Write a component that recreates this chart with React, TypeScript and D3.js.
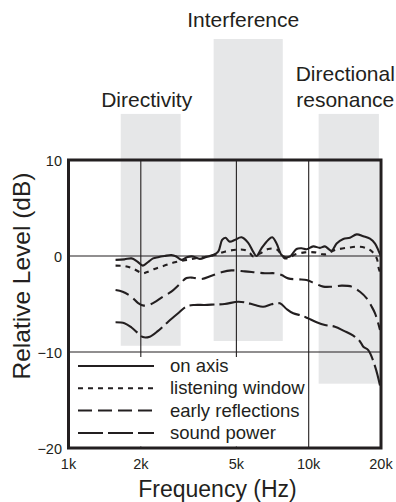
import { useEffect, useRef } from 'react';
import * as d3 from 'd3';

// frequencies in kHz, levels in dB
const onAxis: [number, number][] = [
  [1.57, -0.4], [1.71, -0.35], [1.83, -0.25], [1.93, -0.55], [2.04, -1.0], [2.14, -0.65],
  [2.25, -0.25], [2.36, -0.12], [2.51, 0.0], [2.68, 0.1], [2.81, -0.05], [2.95, -0.4],
  [3.13, -0.1], [3.3, -0.05], [3.52, -0.3], [3.75, -0.1], [4.0, 0.1], [4.2, 0.45],
  [4.36, 1.67], [4.5, 1.9], [4.69, 1.5], [4.92, 1.67], [5.25, 1.95], [5.59, 1.4],
  [5.87, 0.45], [6.06, 0.0], [6.36, 0.8], [6.78, 1.67], [7.05, 1.95], [7.35, 1.3],
  [7.71, 0.1], [7.96, -0.1], [8.35, -0.05], [8.9, 0.73], [9.34, 0.8], [9.8, 0.7],
  [10.44, 1.0], [11.14, 0.85], [11.68, 1.0], [12.46, 0.55], [13.07, 1.3], [13.93, 1.77],
  [14.85, 1.9], [15.84, 2.25], [16.88, 2.05], [17.99, 1.8], [18.89, 1.3], [19.62, 0.45],
  [20, 0.0],
];

const listeningWindow: [number, number][] = [
  [1.57, -1.0], [1.71, -1.05], [1.85, -1.3], [2.04, -1.8], [2.11, -1.7], [2.28, -1.35],
  [2.51, -1.0], [2.77, -0.65], [3.05, -0.45], [3.35, -0.25], [3.69, -0.1], [4.06, 0.1],
  [4.47, 0.45], [5.0, 0.65], [5.42, 0.62], [5.69, 0.3], [5.87, -0.05], [6.26, 0.25],
  [6.78, 0.73], [7.35, 0.7], [7.71, 0.1], [7.96, -0.25], [8.35, -0.15], [8.76, 0.15],
  [9.64, 0.38], [10.61, 0.38], [11.68, 0.17], [12.86, 0.62], [14.61, 0.87], [16.35, 0.97],
  [17.44, 0.8], [18.3, 0.5], [19.2, -0.25], [19.62, -1.4], [20, -1.85],
];

const earlyReflections: [number, number][] = [
  [1.57, -3.55], [1.68, -3.72], [1.83, -4.25], [1.95, -4.9], [2.06, -5.17], [2.21, -5.0],
  [2.47, -4.25], [2.68, -3.72], [2.9, -2.95], [3.1, -2.3], [3.3, -2.26], [3.58, -2.4],
  [3.94, -2.05], [4.33, -1.7], [4.77, -1.5], [5.42, -1.6], [5.97, -1.7], [6.57, -1.8],
  [7.23, -1.8], [7.71, -1.98], [8.21, -2.33], [9.04, -2.43], [9.8, -2.5], [10.61, -2.85],
  [11.5, -3.19], [12.46, -3.2], [13.72, -3.09], [15.1, -3.19], [16.35, -3.72], [17.44, -4.41],
  [18.3, -5.28], [18.89, -5.97], [19.38, -6.84], [19.81, -7.7],
];

const soundPower: [number, number][] = [
  [1.57, -6.9], [1.71, -7.0], [1.83, -7.45], [1.95, -8.05], [2.04, -8.45], [2.18, -8.4],
  [2.36, -7.8], [2.6, -6.85], [2.86, -5.97], [3.1, -5.25], [3.35, -5.1], [3.69, -5.1],
  [4.06, -5.05], [4.47, -5.0], [5.08, -4.76], [5.42, -4.83], [5.97, -5.1], [6.46, -5.28],
  [7.0, -5.03], [7.59, -4.93], [8.09, -5.52], [8.62, -5.97], [9.34, -6.2], [9.95, -6.5],
  [10.79, -6.9], [11.68, -7.19], [12.86, -7.36], [14.02, -7.8], [15.33, -8.3], [16.35, -8.9],
  [16.88, -9.45], [17.7, -9.8], [18.89, -11.5], [19.81, -13.5],
];

const seriesNames = ['on axis', 'listening window', 'early reflections', 'sound power'];
const seriesData = [onAxis, listeningWindow, earlyReflections, soundPower];

// shaded regions: [low kHz, high kHz, top dB, bottom dB]
const bandNames = [['Directivity'], ['Interference'], ['Directional', 'resonance']];
const bandRanges: [number, number, number, number][] = [
  [1.65, 2.93, 14.8, -9.35],
  [4.02, 7.8, 22.6, -8.85],
  [11.0, 19.6, 14.8, -13.3],
];

const freqTicks = [1, 2, 5, 10, 20];
const freqLabels = ['1k', '2k', '5k', '10k', '20k'];
const freqGrid = [2, 5, 10];
const dbTicks = [10, 0, -10, -20];
const dbLabels = ['10', '0', '\u221210', '\u221220'];
const dbGrid = [0, -10];

export default function App() {
  const ref = useRef<SVGSVGElement>(null);

  useEffect(() => {
    const svg = d3.select(ref.current);
    svg.selectAll('*').remove();

    const width = 396;
    const height = 502;
    const ink = '#231f20';
    const font = '"Liberation Sans", Arial, Helvetica, sans-serif';

    svg.attr('width', width).attr('height', height);

    const x = d3.scaleLog().domain([1, 20]).range([68.5, 381]);
    const y = d3.scaleLinear().domain([-20, 10]).range([448, 160]);

    const g = svg.append('g').style('font-family', font).attr('fill', ink);

    // shaded bands
    g.selectAll('rect.band')
      .data(bandRanges)
      .join('rect')
      .attr('class', 'band')
      .attr('x', (d) => x(d[0]))
      .attr('width', (d) => x(d[1]) - x(d[0]))
      .attr('y', (d) => y(d[2]))
      .attr('height', (d) => y(d[3]) - y(d[2]))
      .attr('fill', '#e6e7e8');

    // band labels
    const labelShift = [[-4, -7], [-5, -12], [-3.5, -7]];
    bandRanges.forEach((b, i) => {
      const cx = (x(b[0]) + x(b[1])) / 2 + labelShift[i][0];
      const base = y(b[2]) + labelShift[i][1];
      const lines = bandNames[i];
      lines.forEach((line, j) => {
        g.append('text')
          .attr('x', cx)
          .attr('y', base - (lines.length - 1 - j) * 25.5)
          .attr('text-anchor', 'middle')
          .style('font-size', '21px')
          .text(line);
      });
    });

    // grid
    g.selectAll('line.vgrid')
      .data(freqGrid)
      .join('line')
      .attr('x1', (d) => x(d))
      .attr('x2', (d) => x(d))
      .attr('y1', y(10))
      .attr('y2', y(-20))
      .attr('stroke', ink)
      .attr('stroke-width', 1.1);

    g.selectAll('line.hgrid')
      .data(dbGrid)
      .join('line')
      .attr('x1', x(1))
      .attr('x2', x(20))
      .attr('y1', (d) => y(d))
      .attr('y2', (d) => y(d))
      .attr('stroke', ink)
      .attr('stroke-width', 1.1);

    // legend backing box
    const legendTop = y(-10) + 5;
    g.append('rect')
      .attr('x', x(1) + 1.5)
      .attr('y', legendTop)
      .attr('width', 238)
      .attr('height', y(-20) - legendTop - 1.5)
      .attr('fill', '#fff');

    const dashes = ['none', '5,5', '14,6', '25,5'];

    const line = d3
      .line<[number, number]>()
      .x((d) => x(d[0]))
      .y((d) => y(d[1]))
      .curve(d3.curveCatmullRom.alpha(0.5));

    seriesData.forEach((s, i) => {
      g.append('path')
        .datum(s)
        .attr('fill', 'none')
        .attr('stroke', ink)
        .attr('stroke-width', 2.1)
        .attr('stroke-dasharray', dashes[i])
        .attr('d', line);
    });

    // frame
    g.append('rect')
      .attr('x', x(1))
      .attr('y', y(10))
      .attr('width', x(20) - x(1))
      .attr('height', y(-20) - y(10))
      .attr('fill', 'none')
      .attr('stroke', ink)
      .attr('stroke-width', 3);

    // legend
    seriesNames.forEach((name, i) => {
      const ly = 366 + i * 22.3;
      g.append('line')
        .attr('x1', 78)
        .attr('x2', 154)
        .attr('y1', ly)
        .attr('y2', ly)
        .attr('stroke', ink)
        .attr('stroke-width', 2)
        .attr('stroke-dasharray', dashes[i]);
      g.append('text')
        .attr('x', 170)
        .attr('y', ly + 6)
        .style('font-size', '18.5px')
        .text(name);
    });

    // tick labels
    g.selectAll('text.xt')
      .data(freqTicks)
      .join('text')
      .attr('class', 'xt')
      .attr('x', (d) => x(d))
      .attr('y', 469)
      .attr('text-anchor', 'middle')
      .style('font-size', '14.5px')
      .text((d, i) => freqLabels[i]);

    g.selectAll('text.yt')
      .data(dbTicks)
      .join('text')
      .attr('class', 'yt')
      .attr('x', 62)
      .attr('y', (d) => y(d) + 6)
      .attr('text-anchor', 'end')
      .style('font-size', '14.5px')
      .text((d, i) => dbLabels[i]);

    // axis titles
    g.append('text')
      .attr('x', 217.5)
      .attr('y', 497)
      .attr('text-anchor', 'middle')
      .style('font-size', '23px')
      .text('Frequency (Hz)');

    g.append('text')
      .attr('transform', 'translate(30,276) rotate(-90)')
      .attr('text-anchor', 'middle')
      .style('font-size', '24.5px')
      .text('Relative Level (dB)');
  }, []);

  return <svg ref={ref} style={{ position: 'absolute', left: 0, top: 0 }}></svg>;
}
